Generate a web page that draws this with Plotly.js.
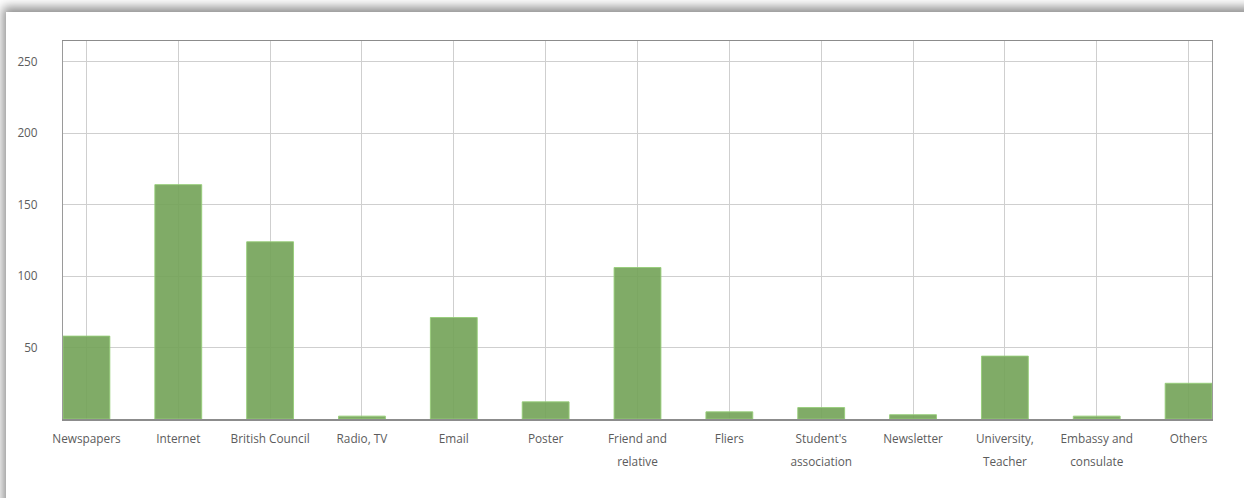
<!DOCTYPE html>
<html>
<head>
<meta charset="utf-8">
<script src="https://cdn.plot.ly/plotly-3.0.1.min.js"></script>
<style>
  html, body { margin: 0; padding: 0; background: #ffffff; overflow: hidden; }
  #card { position: absolute; left: 6px; top: 12px; width: 1260px; height: 520px; background: #fff;
          box-shadow: 0 -2px 10px 3px rgba(0,0,0,0.45); }
  #chart { position: absolute; left: 0; top: 0; width: 1244px; height: 498px; }
</style>
</head>
<body>
<div id="card"></div>
<div id="chart"></div>
<script>
const categories = ["Newspapers", "Internet", "British Council", "Radio, TV", "Email", "Poster",
  "Friend and<br>relative", "Fliers", "Student's<br>association", "Newsletter",
  "University,<br>Teacher", "Embassy and<br>consulate", "Others"];
const values = [58, 164, 124, 2, 71, 12, 106, 5, 8, 3, 44, 2, 25];
const yTicks = [50, 100, 150, 200, 250];

const idx = categories.map((_, i) => i);

const trace = {
  type: "bar",
  x: idx,
  y: values,
  width: 0.51,
  marker: { color: "rgba(114,162,87,0.9)", line: { color: "rgba(150,205,120,0.9)", width: 1 } },
  hoverinfo: "skip"
};

const layout = {
  width: 1244, height: 498,
  margin: { l: 63, r: 32, t: 41, b: 79 },
  paper_bgcolor: "rgba(0,0,0,0)",
  plot_bgcolor: "rgba(0,0,0,0)",
  showlegend: false,
  bargap: 0,
  font: { family: "Open Sans", size: 12, color: "#5c5c5c" },
  xaxis: {
    range: [-0.255, 12.255],
    tickvals: idx, ticktext: categories,
    showgrid: true, gridcolor: "#cfcfcf", gridwidth: 1,
    showline: true, linecolor: "#8c8c8c", linewidth: 1.5, mirror: true,
    ticks: "outside", ticklen: 8, tickcolor: "rgba(0,0,0,0)",
    tickfont: { family: "Open Sans", size: 11.8, color: "#5c5c5c" },
    zeroline: false, fixedrange: true
  },
  yaxis: {
    range: [0, 264.5],
    tickvals: yTicks,
    showgrid: true, gridcolor: "#cfcfcf", gridwidth: 1,
    showline: true, linecolor: "#9a9a9a", linewidth: 1, mirror: true,
    ticks: "outside", ticklen: 22, tickcolor: "rgba(0,0,0,0)",
    tickfont: { family: "Open Sans", size: 11.8, color: "#5c5c5c" },
    zeroline: false, fixedrange: true
  }
};

Plotly.newPlot("chart", [trace], layout, { staticPlot: true, displayModeBar: false }).then(() => {
  document.querySelectorAll(".xtick text tspan.line").forEach((t, i) => {
    if (t.getAttribute("dy") && t.getAttribute("dy") !== "0em") t.setAttribute("dy", "2em");
  });
});
</script>
</body>
</html>
